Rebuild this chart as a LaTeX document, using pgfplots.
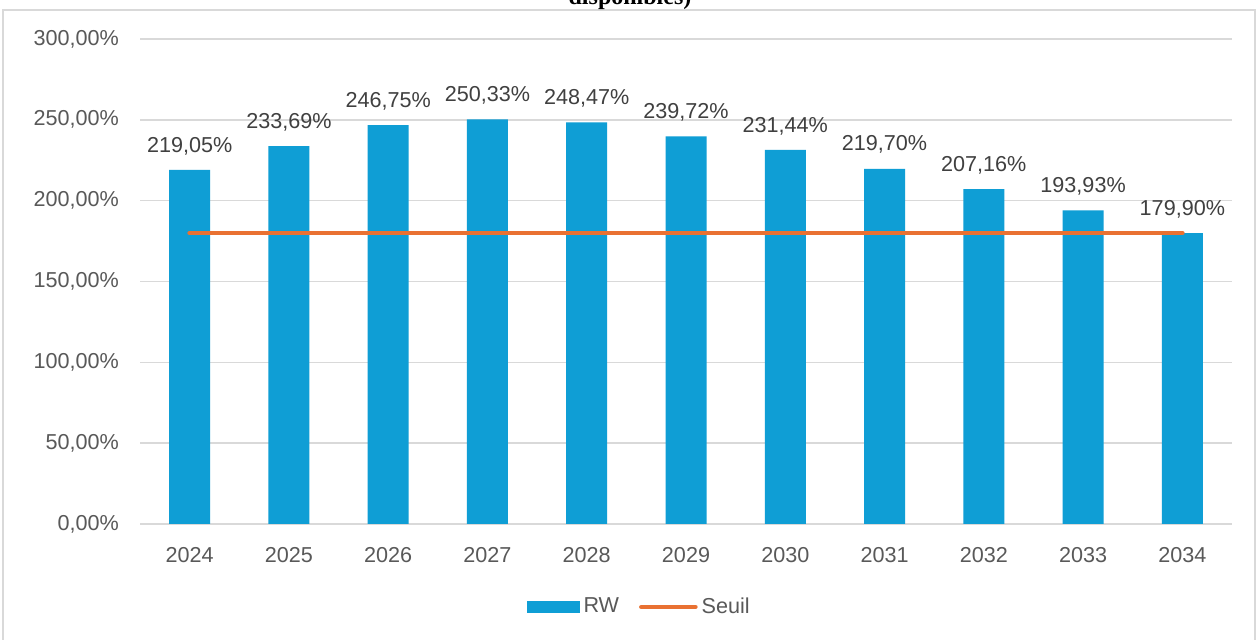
\documentclass[border=0pt]{standalone}
\usepackage{pgfplots}
\pgfplotsset{compat=1.18}
\usepackage{fontspec}
\setmainfont{Liberation Sans}
\newfontfamily\titlefont{Liberation Serif}
\definecolor{barblue}{HTML}{0F9ED5}
\definecolor{seuilorange}{HTML}{E97132}
\definecolor{gridgray}{HTML}{D9D9D9}
\definecolor{txtgray}{HTML}{595959}
\definecolor{lblgray}{HTML}{404040}
\begin{document}
\begin{tikzpicture}
\useasboundingbox (0,0) rectangle (629pt,320pt);
\clip (0,0) rectangle (629pt,320pt);
\fill[white] (0,0) rectangle (629pt,320pt);
\draw[gridgray, line width=0.8pt] (1.5pt,-5pt) rectangle (627.5pt,315pt);
\node[anchor=base, font=\titlefont\bfseries\fontsize{12}{14}\selectfont] at (315pt,317.5pt) {disponibles)};
\begin{axis}[
  at={(70pt,58pt)}, anchor=south west,
  scale only axis, width=546pt, height=242.5pt,
  xmin=-0.5, xmax=10.5, ymin=0, ymax=300,
  xtick={0,...,10},
  xticklabels={2024,2025,2026,2027,2028,2029,2030,2031,2032,2033,2034},
  ytick={0,50,...,300},
  major tick length=0pt,
  axis line style={draw=none},
  ymajorgrids, grid style={gridgray, line width=0.8pt},
  /pgf/number format/assume math mode=true,
  /pgf/number format/1000 sep={},
  yticklabel={\pgfmathprintnumber[fixed,fixed zerofill,precision=2,use comma]{\tick}\%},
  tick label style={font=\fontsize{10.8}{13}\selectfont, text=txtgray},
  y tick label style={xshift=-7pt},
  x tick label style={yshift=-8pt},
  legend style={at={(0.458,-0.171)}, anchor=center, draw=none, legend columns=2,
    font=\fontsize{10.8}{13}\selectfont, text=txtgray,
    /tikz/every even column/.append style={column sep=8pt}},
  clip=false,
]
\addplot[ybar, bar width=20.5pt, fill=barblue, draw=none,
  nodes near coords={\pgfmathprintnumber[fixed,fixed zerofill,precision=2,use comma]{\pgfplotspointmeta}\%},
  every node near coord/.append style={font=\fontsize{10.8}{13}\selectfont, text=lblgray, yshift=4pt},
  legend image code/.code={\fill[barblue] (0pt,-3pt) rectangle (26.5pt,3pt);}]
  coordinates {(0,219.05) (1,233.69) (2,246.75) (3,250.33) (4,248.47) (5,239.72) (6,231.44) (7,219.70) (8,207.16) (9,193.93) (10,179.90)};
\addlegendentry{RW}
\addplot[sharp plot, seuilorange, line width=2.3pt, line cap=round, mark=none,
  legend image code/.code={\draw[seuilorange, line width=2.3pt, line cap=round] (0pt,0pt) -- (27pt,0pt);}]
  coordinates {(0,180) (1,180) (2,180) (3,180) (4,180) (5,180) (6,180) (7,180) (8,180) (9,180) (10,180)};
\addlegendentry{Seuil}
\end{axis}
\end{tikzpicture}
\end{document}
